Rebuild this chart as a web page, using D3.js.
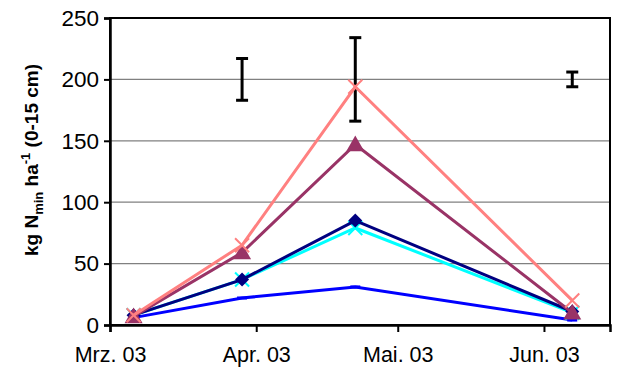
<!DOCTYPE html>
<html><head><meta charset="utf-8">
<script src="https://cdn.jsdelivr.net/npm/d3@7"></script>
<style>body{margin:0;background:#fff;} svg{display:block;} svg text{font-family:"Liberation Sans",Arial,sans-serif !important;}</style>
</head><body><svg id="c" width="627" height="380"></svg>
<script>
// Data
const dates = ["2003-03-06", "2003-03-29", "2003-04-22", "2003-06-07"];
const seriesNames = ["pink", "purple", "navy", "cyan", "blue"];
const seriesColors = ["#FF8080", "#993366", "#000080", "#00FFFF", "#0000FF"];
const seriesMarkers = ["x", "triangle", "diamond", "x", "dash"];
const valsPink   = [8, 65, 194, 20];
const valsPurple = [7, 59, 147, 10];
const valsNavy   = [8, 37, 85, 11];
const valsCyan   = [8, 37, 79, 10];
const valsBlue   = [6, 22, 31, 4];
const errDates = ["2003-03-29", "2003-04-22", "2003-06-07"];
const errCenter = [200, 200, 200];
const errHalf = [17, 34, 6];
const yTicks = [0, 50, 100, 150, 200, 250];
const xTickDates = ["2003-03-01", "2003-04-01", "2003-05-01", "2003-06-01"];
const xTickLabels = ["Mrz. 03", "Apr. 03", "Mai. 03", "Jun. 03"];

const allVals = [valsPink, valsPurple, valsNavy, valsCyan, valsBlue];
const pd = s => { const [y,m,d] = s.split("-").map(Number); return new Date(Date.UTC(y, m-1, d)); };

const svg = d3.select("#c");
const L = 110, R = 610, T = 18, B = 325;
const x = d3.scaleUtc().domain([pd("2003-03-01"), pd("2003-06-15")]).range([L, R]);
const y = d3.scaleLinear().domain([0, 250]).range([B, T]);

// gridlines
svg.append("g").selectAll("line").data(yTicks.filter(t => t > 0 && t < 250)).join("line")
  .attr("x1", L).attr("x2", R).attr("y1", d => y(d)).attr("y2", d => y(d))
  .attr("stroke", "#808080").attr("stroke-width", 1.2);

// plot frame
svg.append("rect").attr("x", L).attr("y", T).attr("width", R - L).attr("height", B - T)
  .attr("fill", "none").attr("stroke", "#000").attr("stroke-width", 2);

// y axis
const yAxis = d3.axisLeft(y).tickValues(yTicks).tickSize(6).tickPadding(5).tickFormat(d3.format("d"));
const gy = svg.append("g").attr("transform", `translate(${L},0)`).call(yAxis);
gy.select(".domain").attr("stroke-width", 2.5);
gy.selectAll(".tick line").attr("stroke-width", 2);
gy.selectAll("text").attr("font-size", 22.5).attr("fill", "#000");

// x axis
const xAxis = d3.axisBottom(x).tickValues(xTickDates.map(pd)).tickSize(7).tickPadding(15)
  .tickFormat((d, i) => xTickLabels[i]);
const gx = svg.append("g").attr("transform", `translate(0,${B})`).call(xAxis);
gx.select(".domain").attr("stroke-width", 2.5);
gx.selectAll(".tick line").attr("stroke-width", 2);
gx.selectAll("text").attr("font-size", 21.5).attr("fill", "#000");

// y label
const yl = svg.append("text").attr("transform", "translate(38,160) rotate(-90)")
  .attr("text-anchor", "middle").attr("font-weight", "bold").attr("font-size", 19).attr("fill", "#000");
yl.append("tspan").text("kg N");
yl.append("tspan").text("min").attr("font-size", 13).attr("dy", 5);
yl.append("tspan").text(" ha").attr("dy", -5);
yl.append("tspan").text("-1").attr("font-size", 13).attr("dy", -8);
yl.append("tspan").text(" (0-15 cm)").attr("dy", 8);

// error bars
const eg = svg.append("g");
errDates.forEach((d, i) => {
  const cx = x(pd(d)), y1 = y(errCenter[i] + errHalf[i]), y2 = y(errCenter[i] - errHalf[i]);
  eg.append("line").attr("x1", cx).attr("x2", cx).attr("y1", y1).attr("y2", y2).attr("stroke", "#000").attr("stroke-width", 3);
  [y1, y2].forEach(yy => eg.append("line").attr("x1", cx - 6).attr("x2", cx + 6).attr("y1", yy).attr("y2", yy)
    .attr("stroke", "#000").attr("stroke-width", 3));
});

// lines and markers (draw blue first so pink on top)
const order = [4, 3, 2, 1, 0];
const line = d3.line().x(d => x(d.d)).y(d => y(d.v));
order.forEach(si => {
  const pts = dates.map((d, i) => ({ d: pd(d), v: allVals[si][i] }));
  const col = seriesColors[si];
  const g = svg.append("g");
  g.append("path").datum(pts).attr("d", line).attr("fill", "none").attr("stroke", col).attr("stroke-width", 3);
  pts.forEach(p => {
    const cx = x(p.d), cy = y(p.v), m = seriesMarkers[si];
    if (m === "x") {
      const s = 7;
      g.append("path").attr("d", `M${cx-s},${cy-s}L${cx+s},${cy+s}M${cx-s},${cy+s}L${cx+s},${cy-s}`)
        .attr("stroke", col).attr("stroke-width", 2);
    } else if (m === "triangle") {
      const s = 9;
      g.append("path").attr("d", `M${cx},${cy-s}L${cx+s},${cy+s*0.75}L${cx-s},${cy+s*0.75}Z`).attr("fill", col);
    } else if (m === "diamond") {
      const s = 7;
      g.append("path").attr("d", `M${cx},${cy-s}L${cx+s},${cy}L${cx},${cy+s}L${cx-s},${cy}Z`).attr("fill", col);
    } else if (m === "dash") {
      g.append("line").attr("x1", cx - 5).attr("x2", cx + 5).attr("y1", cy).attr("y2", cy)
        .attr("stroke", col).attr("stroke-width", 3);
    }
  });
});
</script></body></html>
